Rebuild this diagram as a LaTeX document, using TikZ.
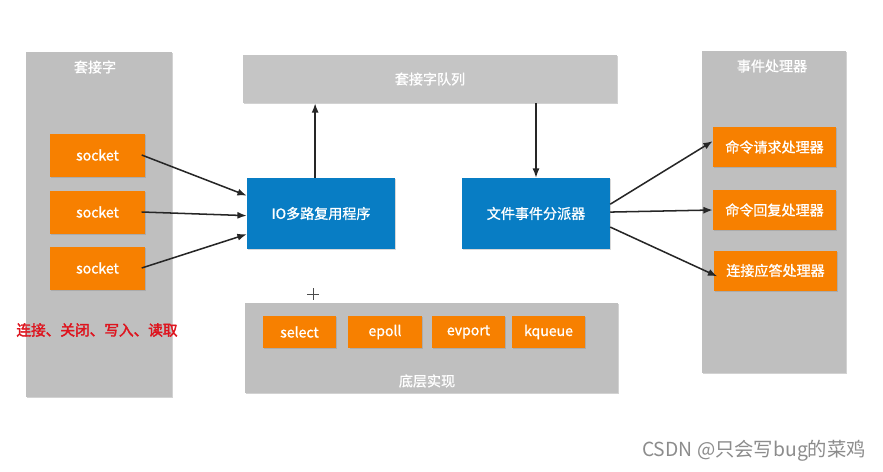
\documentclass[tikz,border=0pt]{standalone}
\usepackage{fontspec}
\setmainfont{Noto Sans CJK SC}
\newfontfamily\semicjk[FakeBold=1]{Noto Sans CJK SC}
\newfontfamily\boldcjk[FakeBold=2.5]{Noto Sans CJK SC}
\usetikzlibrary{arrows.meta,calc,shadows}

\definecolor{panelgray}{RGB}{191,191,191}
\definecolor{bargray}{RGB}{197,197,197}
\definecolor{boxorange}{RGB}{247,128,0}
\definecolor{boxblue}{RGB}{8,125,196}
\definecolor{warnred}{RGB}{222,20,30}

\newcommand{\boxfont}{\semicjk\fontsize{12}{14}\selectfont}

\tikzset{
  panel/.style={fill=panelgray, draw=none, drop shadow={opacity=0.35, shadow xshift=1.2pt, shadow yshift=-1.2pt}, inner sep=0pt},
  paneltitle/.style={text=white, font=\boxfont},
  orangebox/.style={fill=boxorange, draw=none, text=white, font=\boxfont, inner sep=0pt, drop shadow={opacity=0.3, shadow xshift=1pt, shadow yshift=-1pt}},
  bluebox/.style={fill=boxblue, draw=none, text=white, font=\boxfont, minimum width=4.44cm, minimum height=2.13cm, inner sep=0pt, drop shadow={opacity=0.3, shadow xshift=1pt, shadow yshift=-1pt}},
  link/.style={-{Latex[length=8pt,width=6pt]}, line width=1.3pt, black!85}
}

\begin{document}
\begin{tikzpicture}[x=0.03cm, y=-0.03cm]
  \useasboundingbox[fill=white] (0,0) rectangle (883,472);

  % panels
  \node[panel, minimum width=4.38cm, minimum height=10.35cm] (sockets) at (99,224.5) {};
  \node[paneltitle] (socketstitle) at (95,67) {套接字};
  \node[panel, fill=bargray, minimum width=11.22cm, minimum height=1.44cm] (queue) at (430,79) {};
  \node[paneltitle] (queuetitle) at (queue) {套接字队列};
  \node[panel, minimum width=11.19cm, minimum height=2.7cm] (impl) at (431.5,348) {};
  \node[paneltitle] (impltitle) at (427,381) {底层实现};
  \node[panel, minimum width=4.32cm, minimum height=9.66cm] (handlers) at (774,212) {};
  \node[paneltitle] (handlerstitle) at (772,66) {事件处理器};

  % sockets
  \foreach \y/\n in {155/1, 212/2, 268/3}
  {
    \node[orangebox, minimum width=2.85cm, minimum height=1.29cm] (s\n) at (97.5,\y) {socket};
  }
  \node[text=warnred, font=\boldcjk\fontsize{12.5}{14}\selectfont] (ops) at (97,330) {连接、关闭、写入、读取};

  % programs
  \node[bluebox] (io) at (321,213.5) {IO多路复用程序};
  \node[bluebox] (disp) at (536,213.5) {文件事件分派器};

  % implementations
  \foreach \x/\t in {299.5/select, 385/epoll, 468.5/evport, 548.5/kqueue}
  {
    \node[orangebox, minimum width=2.2cm, minimum height=0.96cm] (\t) at (\x,332) {\t};
  }

  % handlers
  \node[orangebox, minimum width=3.69cm, minimum height=1.2cm] (h1) at (774.5,147) {命令请求处理器};
  \node[orangebox, minimum width=3.69cm, minimum height=1.2cm] (h2) at (774.5,210) {命令回复处理器};
  \node[orangebox, minimum width=3.69cm, minimum height=1.2cm] (h3) at (775.5,270.5) {连接应答处理器};

  % connectors
  \draw[link] ([xshift=-3pt]s1.east) -- ($(io.north west)!0.25!(io.south west)$);
  \draw[link] ([xshift=-3pt]s2.east) -- ($(io.north west)!0.53!(io.south west)$);
  \draw[link] ([xshift=-3pt]s3.east) -- ($(io.north west)!0.79!(io.south west)$);
  \draw[link] ([xshift=-5pt]io.north) -- ([xshift=-5pt]io.north |- queue.south);
  \draw[link] (queue.south -| disp.north) -- (disp.north);
  \draw[link] ($(disp.north east)!0.37!(disp.south east)$) -- ([yshift=5pt]h1.west);
  \draw[link] ($(disp.north east)!0.48!(disp.south east)$) -- ([yshift=0pt]h2.west);
  \draw[link] ($(disp.north east)!0.69!(disp.south east)$) -- ([xshift=3pt,yshift=-5pt]h3.west);

  % cursor mark
  \coordinate (cursor) at (313,294);
  \draw[black!70, line width=0.6pt] ([xshift=-5pt]cursor) -- ([xshift=5pt]cursor)
                                    ([yshift=-5pt]cursor) -- ([yshift=5pt]cursor);

  % watermark
  \node[text=black!45, font=\fontsize{16.5}{18}\selectfont] (mark) at (754,451) {CSDN @只会写bug的菜鸡};
\end{tikzpicture}
\end{document}
